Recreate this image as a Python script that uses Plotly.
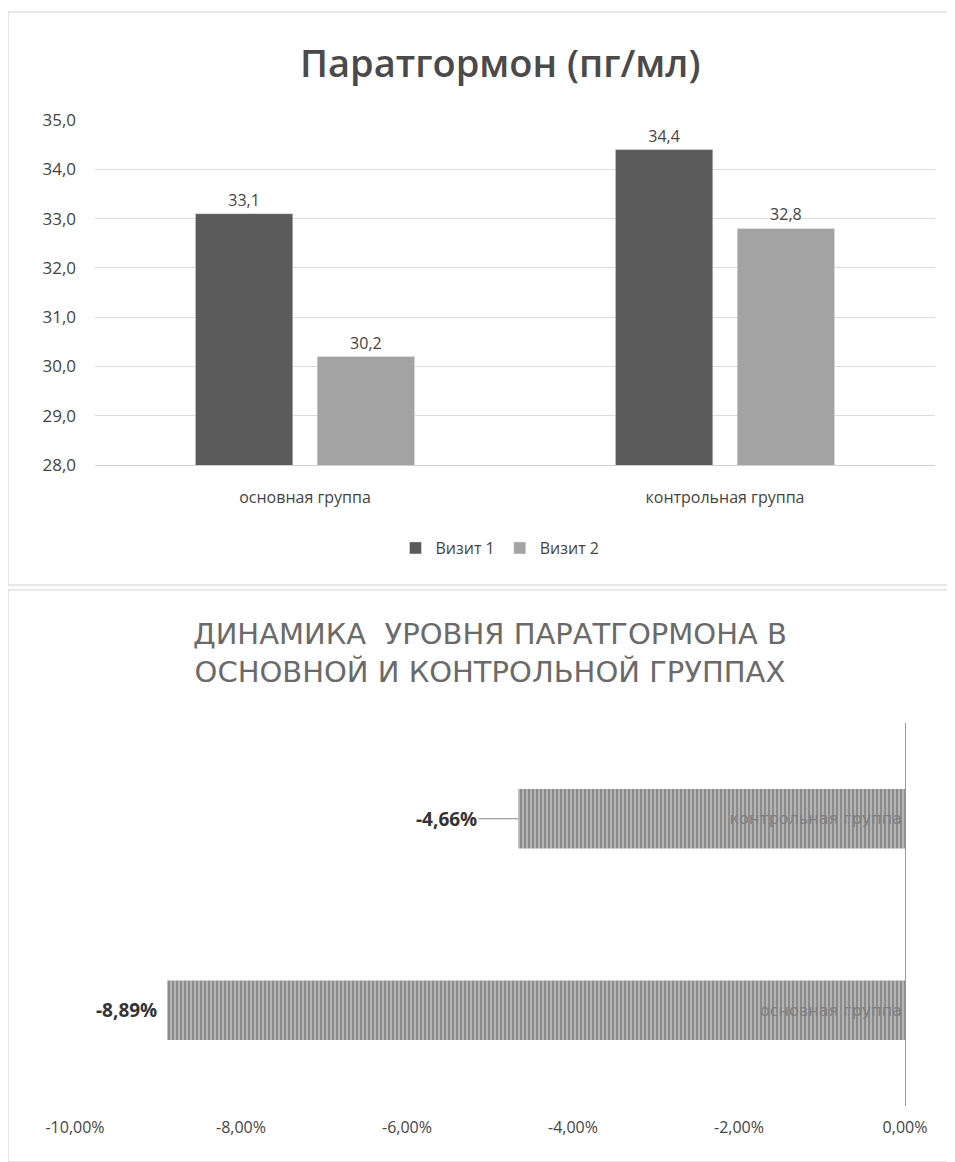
import plotly.graph_objects as go

# ---- data ----
groups = ["основная группа", "контрольная группа"]
visit1 = [33.1, 34.4]
visit2 = [30.2, 32.8]
series_names = ["Визит 1", "Визит 2"]

dyn_groups = ["основная группа", "контрольная группа"]
dyn_values = [-0.0889, -0.0466]
dyn_tickvals = [-0.10, -0.08, -0.06, -0.04, -0.02, 0.0]
dyn_ticktext = ["-10,00%", "-8,00%", "-6,00%", "-4,00%", "-2,00%", "0,00%"]

top_title = "Паратгормон (пг/мл)"
bottom_title = "ДИНАМИКА  УРОВНЯ ПАРАТГОРМОНА В<br>ОСНОВНОЙ И КОНТРОЛЬНОЙ ГРУППАХ"

# page has an 8px body margin; figure sized to fit the window exactly
OFF = 8
W, H = 955 - OFF, 1162 - OFF
def py(px):
    return 1 - (px - OFF) / H
def pxx(px):
    return (px - OFF) / W

FONT = "Open Sans"
TXT = "#444444"

fig = go.Figure()

fig.add_trace(go.Bar(
    x=groups, y=visit1, name=series_names[0],
    marker=dict(color="#5a5a5a"),
    text=visit1, texttemplate="%{y:.1f}", textposition="outside",
    textfont=dict(size=16, color=TXT), cliponaxis=False,
    xaxis="x", yaxis="y",
))
fig.add_trace(go.Bar(
    x=groups, y=visit2, name=series_names[1],
    marker=dict(color="#a3a3a3"),
    text=visit2, texttemplate="%{y:.1f}", textposition="outside",
    textfont=dict(size=16, color=TXT), cliponaxis=False,
    xaxis="x", yaxis="y",
))

fig.add_trace(go.Bar(
    x=dyn_values, y=dyn_groups, orientation="h",
    marker=dict(color="#b4b4b4",
                pattern=dict(shape="|", fgcolor="#5a5a5a", size=4, solidity=0.45),
                line=dict(width=0)),
    text=dyn_groups, textposition="inside", insidetextanchor="start",
    textfont=dict(size=16, color="#808080", family="DejaVu Sans"),
    showlegend=False, xaxis="x2", yaxis="y2",
))

# value labels for dynamics chart
for v, g in zip(dyn_values, dyn_groups):
    lbl = f"{v*100:.2f}%".replace(".", ",")
    if g == "контрольная группа":
        fig.add_annotation(x=v, y=g, xref="x2", yref="y2", text=f"<b>{lbl}</b>",
                           showarrow=True, arrowhead=0, arrowwidth=1, arrowcolor="#888",
                           ax=-72, ay=0, font=dict(size=19, color="#333", family=FONT))
    else:
        fig.add_annotation(x=v, y=g, xref="x2", yref="y2", text=f"<b>{lbl}</b>",
                           showarrow=False, xanchor="right", xshift=-8,
                           font=dict(size=19, color="#333", family=FONT))

# titles
fig.add_annotation(x=pxx(500), y=py(62), xref="paper", yref="paper", text=top_title,
                   showarrow=False, xanchor="center", yanchor="middle",
                   font=dict(size=38, color="#4a4a4a", family=FONT, weight=600))
fig.add_annotation(x=pxx(490), y=py(653), xref="paper", yref="paper", text=bottom_title,
                   showarrow=False, xanchor="center", yanchor="middle",
                   font=dict(size=29, color="#6a6a6a", family="DejaVu Sans"))

# chart frames
fig.add_shape(type="rect", xref="paper", yref="paper",
              x0=0, x1=pxx(953), y0=py(585), y1=py(12),
              line=dict(color="#cfcfcf", width=1))
fig.add_shape(type="rect", xref="paper", yref="paper",
              x0=0, x1=pxx(953), y0=0, y1=py(590),
              line=dict(color="#cfcfcf", width=1))

fig.update_layout(
    width=W, height=H,
    margin=dict(l=0, r=0, t=0, b=0, autoexpand=False),
    paper_bgcolor="white", plot_bgcolor="white",
    separators=", ",
    font=dict(family=FONT, color=TXT, size=16),
    barmode="group", bargap=0.42, bargroupgap=0.2,
    showlegend=True,
    legend=dict(orientation="h", x=pxx(500), xanchor="center", y=py(548), yanchor="middle",
                font=dict(size=16, color=TXT), itemwidth=30, traceorder="normal"),
    xaxis=dict(domain=[pxx(95), pxx(935)], anchor="y", showline=True, linecolor="#d0d0d0",
               ticks="", tickfont=dict(size=16, color=TXT), automargin=False,
               ticklabelstandoff=18),
    yaxis=dict(domain=[py(465), py(120)], anchor="x", range=[28, 35], dtick=1,
               tickformat=".1f", showgrid=True, gridcolor="#dcdcdc", zeroline=False,
               tickfont=dict(size=17, color=TXT), ticklabelstandoff=18, automargin=False),
    xaxis2=dict(domain=[pxx(75), pxx(905)], anchor="free", position=py(1106),
                range=[-0.1, 0], tickvals=dyn_tickvals, ticktext=dyn_ticktext,
                showgrid=False, zeroline=False, showline=False,
                tickfont=dict(size=16, color=TXT), ticklabelstandoff=10, automargin=False),
    yaxis2=dict(domain=[py(1106), py(723)], anchor="x2", showticklabels=False,
                showline=True, linecolor="#999999", side="right", showgrid=False,
                automargin=False),
)
fig.update_traces(selector=dict(orientation="h"), width=0.31)

fig.write_html("out.html")
